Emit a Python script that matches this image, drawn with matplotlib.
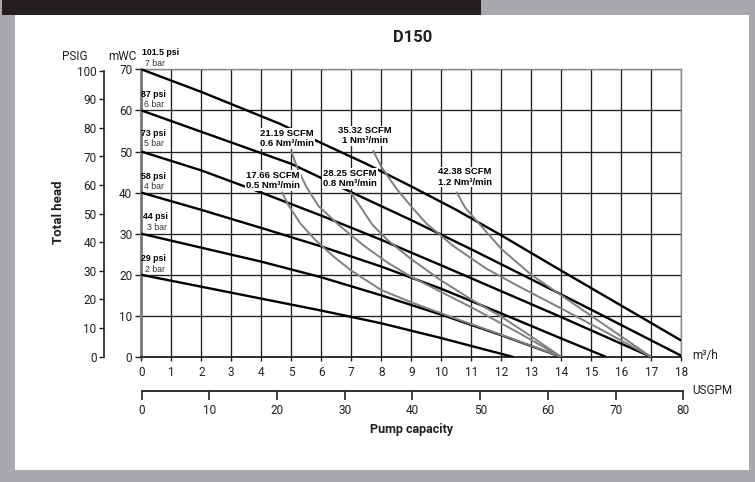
import matplotlib
matplotlib.use('Agg')
import matplotlib.pyplot as plt
from matplotlib.patches import Rectangle

plt.rcParams['font.family'] = ['Roboto', 'DejaVu Sans']

W, H = 755, 482
BG_GRAY = '#a7a9ac'
DARK = '#231f20'
CURVE_GRAY = '#808080'
LABEL_FONT = ['Liberation Sans', 'DejaVu Sans']

# === data: pressure lines (m3/h -> mWC) ===
P7_X = [0, 2, 4.6, 7.5, 9, 10.5, 12, 14, 16, 18]
P7_Y = [70, 64.5, 56.8, 47.0, 41.5, 35.8, 29.6, 21.0, 12.5, 4.0]
P6_X = [0, 2, 5, 7, 9, 11, 13, 15, 18]
P6_Y = [60, 54.8, 47.0, 40.1, 33.3, 26.2, 18.9, 11.5, 0.3]
P5_X = [0, 2, 4, 6, 8, 10, 12, 14, 17]
P5_Y = [50, 45.4, 40.0, 34.4, 28.5, 22.3, 16.0, 9.7, 0]
P4_X = [0, 2, 4, 6, 8, 10, 12, 14, 15.5]
P4_Y = [40, 35.8, 31.4, 26.9, 22.0, 16.6, 10.6, 4.5, 0]
P3_X = [0, 2, 4, 6, 8, 10, 12, 14]
P3_Y = [30, 26.6, 23.2, 19.4, 15.0, 10.3, 5.3, 0]
P2_X = [0, 2, 4, 6, 8, 10, 12.4]
P2_Y = [20, 17.1, 14.2, 11.3, 8.2, 4.6, 0]

PSI_LABELS = ['101.5 psi', '87 psi', '73 psi', '58 psi', '44 psi', '29 psi']
BAR_LABELS = ['7 bar', '6 bar', '5 bar', '4 bar', '3 bar', '2 bar']

# === data: air consumption curves ===
A05_X = [4.68, 4.9, 5.3, 5.8, 6.4, 7.0, 8.0, 9.0, 10.5, 12.0, 14.0]
A05_Y = [40.2, 37.0, 32.5, 28.5, 24.5, 21.0, 16.3, 13.3, 9.3, 5.4, 0]
A06_X = [5.0, 5.2, 5.5, 5.9, 6.6, 7.4, 8.2, 9.0, 10.0, 11.0, 12.5, 14.0]
A06_Y = [50.0, 46.0, 41.4, 36.8, 32.0, 27.2, 23.0, 19.5, 15.8, 12.1, 6.2, 0]
A08_X = [6.96, 7.3, 7.7, 8.2, 9.0, 10.0, 11.0, 12.0, 13.0, 14.0]
A08_Y = [40.2, 36.6, 32.2, 28.5, 23.8, 18.6, 14.0, 9.8, 5.0, 0]
A10_X = [7.72, 8.0, 8.5, 9.0, 9.5, 10.4, 11.5, 12.5, 14.0, 15.5, 17.0]
A10_Y = [50.3, 46.3, 41.0, 36.6, 32.5, 27.0, 21.5, 17.5, 11.8, 6.0, 0]
A12_X = [10.5, 10.8, 11.3, 12.0, 13.0, 14.0, 15.0, 16.0, 17.0]
A12_Y = [40.2, 36.3, 32.1, 26.3, 20.0, 15.0, 10.0, 5.0, 0]

AIR_LABELS = ['17.66 SCFM\n0.5 Nm³/min', '21.19 SCFM\n0.6 Nm³/min',
              '28.25 SCFM\n0.8 Nm³/min', '35.32 SCFM\n1 Nm³/min',
              '42.38 SCFM\n1.2 Nm³/min']

FLOW_TICKS = list(range(0, 19))
HEAD_TICKS = list(range(0, 71, 10))
PSIG_TICKS = list(range(0, 101, 10))
GPM_TICKS = list(range(0, 81, 10))


def fx(px):
    return px / W


def fy(py):
    return 1 - py / H


fig = plt.figure(figsize=(W / 100, H / 100), dpi=100)
fig.patch.set_facecolor(BG_GRAY)
fig.add_artist(Rectangle((fx(15), fy(470)), (749 - 15) / W, (470 - 15) / H,
                         transform=fig.transFigure, facecolor='white',
                         edgecolor='none', zorder=0))
fig.add_artist(Rectangle((fx(2), fy(15)), 479 / W, 15 / H,
                         transform=fig.transFigure, facecolor=DARK,
                         edgecolor='none', zorder=0))

# main axes: m3/h vs mWC
ax = fig.add_axes([fx(141.3), fy(357), 540 / W, (357 - 69.3) / H])
ax.set_facecolor('none')
ax.set_xlim(0, 18)
ax.set_ylim(0, 70)
ax.set_xticks(FLOW_TICKS)
ax.set_yticks(HEAD_TICKS)
ax.grid(True, color=DARK, linewidth=0.95, zorder=1)
ax.set_axisbelow(True)
for s in ('top', 'right'):
    ax.spines[s].set_color('#8a8c8e')
    ax.spines[s].set_linewidth(1.0)
ax.spines['left'].set_color('#77787b')
ax.spines['left'].set_linewidth(2.0)
ax.spines['bottom'].set_color(DARK)
ax.spines['bottom'].set_linewidth(1.3)
ax.tick_params(axis='x', direction='out', length=3, width=1, pad=3.5,
               labelsize=8.5, colors=DARK)
ax.tick_params(axis='y', direction='out', length=4.5, width=1, pad=2,
               labelsize=8.5, colors=DARK)

for xs, ys in [(P7_X, P7_Y), (P6_X, P6_Y), (P5_X, P5_Y),
               (P4_X, P4_Y), (P3_X, P3_Y), (P2_X, P2_Y)]:
    ax.plot(xs, ys, color='black', linewidth=1.7, zorder=3,
            solid_capstyle='butt')

for xs, ys in [(A05_X, A05_Y), (A06_X, A06_Y), (A08_X, A08_Y),
               (A10_X, A10_Y), (A12_X, A12_Y)]:
    ax.plot(xs, ys, color=CURVE_GRAY, linewidth=1.4, zorder=4,
            solid_capstyle='butt')

# pressure labels
psi_pos = [(0.02, 74.0), (0.0, 63.9), (0.0, 54.4), (0.0, 43.8), (0.05, 34.2), (0.0, 24.0)]
bar_pos = [(0.12, 71.5), (0.1, 61.5), (0.1, 52.0), (0.1, 41.6), (0.18, 31.5), (0.12, 21.4)]
for lab, (x, y) in zip(PSI_LABELS, psi_pos):
    ax.text(x, y, lab, fontsize=6.3, fontweight='bold', family=LABEL_FONT,
            ha='left', va='center', clip_on=False, zorder=6)
for lab, (x, y) in zip(BAR_LABELS, bar_pos):
    ax.text(x, y, lab, fontsize=6.3, family=LABEL_FONT, color='#333333',
            ha='left', va='center', clip_on=False, zorder=6)

# air consumption labels
air_pos = [(4.38, 43.0), (4.86, 53.2), (6.96, 43.5), (7.46, 53.8), (10.79, 43.8)]
for lab, (x, y) in zip(AIR_LABELS, air_pos):
    ax.text(x, y, lab, fontsize=6.8, fontweight='bold', family=LABEL_FONT,
            ha='center', va='center', linespacing=1.15, zorder=7,
            bbox=dict(facecolor='white', edgecolor='none', pad=0.6))

# PSIG axis
axp = fig.add_axes([fx(103.5), fy(356.7), 0.0001, (356.7 - 70.7) / H])
axp.set_ylim(0, 100)
axp.set_yticks(PSIG_TICKS)
axp.set_xticks([])
for s in ('top', 'right', 'bottom'):
    axp.spines[s].set_visible(False)
axp.spines['left'].set_color(DARK)
axp.spines['left'].set_linewidth(1.2)
axp.tick_params(axis='y', direction='out', length=3.5, width=1, pad=1.5,
                labelsize=8.5, colors=DARK)

# USGPM axis
axg = fig.add_axes([fx(141.7), fy(390.5), (683.3 - 141.7) / W, 0.0001])
axg.set_xlim(0, 80)
axg.set_xticks(GPM_TICKS)
axg.set_yticks([])
for s in ('top', 'right', 'left'):
    axg.spines[s].set_visible(False)
axg.spines['bottom'].set_color(DARK)
axg.spines['bottom'].set_linewidth(1.3)
axg.tick_params(axis='x', direction='out', length=6.5, width=1.2, pad=3.5,
                labelsize=8.5, colors=DARK)

# texts
fig.text(fx(413), fy(38), 'D150', fontsize=12, fontweight='bold',
         ha='center', va='center', color=DARK)
fig.text(fx(75), fy(56), 'PSIG', fontsize=8.5, ha='center', va='center', color=DARK)
fig.text(fx(122), fy(56), 'mWC', fontsize=8.5, ha='center', va='center', color=DARK)
fig.text(fx(58), fy(212), 'Total head', fontsize=9.5, fontweight='bold',
         rotation=90, ha='center', va='center', color=DARK)
fig.text(fx(692), fy(355), 'm³/h', fontsize=8.5, ha='left', va='center', color=DARK)
fig.text(fx(692), fy(390), 'USGPM', fontsize=8.5, ha='left', va='center', color=DARK)
fig.text(fx(412), fy(429), 'Pump capacity', fontsize=9, fontweight='bold',
         ha='center', va='center', color=DARK)

fig.savefig('out.png', dpi=100, facecolor=fig.get_facecolor())
